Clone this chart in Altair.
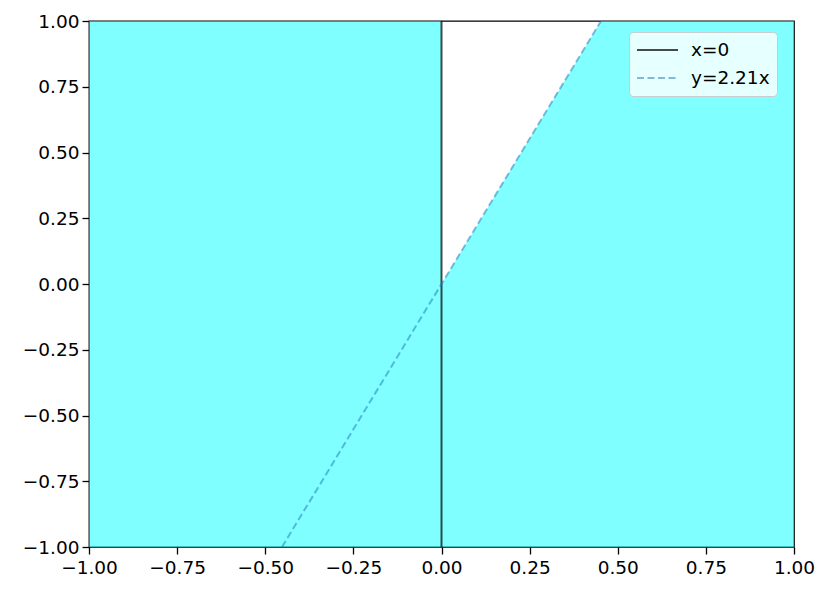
import altair as alt
import pandas as pd

# ---- data ----
slope = 2.21
line_labels = ["x=0", "y=2.21x"]
vline_x = [0.0, 0.0]
vline_y = [-1.0, 1.0]
dline_x = [-1.0 / slope, 1.0 / slope]
dline_y = [-1.0, 1.0]

# filled region: left half (rect) + right part below the line (area)
left_x, left_x2 = [-1.0], [0.0]
left_y, left_y2 = [-1.0], [1.0]
right_x = [0.0, 1.0 / slope, 1.0]
right_top = [0.0, 1.0, 1.0]
right_bottom = [-1.0, -1.0, -1.0]

ticks = [-1.0, -0.75, -0.5, -0.25, 0.0, 0.25, 0.5, 0.75, 1.0]

left_df = pd.DataFrame({"x": left_x, "x2": left_x2, "y": left_y, "y2": left_y2})
right_df = pd.DataFrame({"x": right_x, "top": right_top, "bottom": right_bottom})
lines_df = pd.DataFrame({
    "x": vline_x + dline_x,
    "y": vline_y + dline_y,
    "series": [line_labels[0]] * 2 + [line_labels[1]] * 2,
})

FS = 18.5
xscale = alt.Scale(domain=[-1, 1], nice=False, zero=False)
yscale = alt.Scale(domain=[-1, 1], nice=False, zero=False)

xaxis = alt.Axis(values=ticks, format=".2f", title=None, grid=False, domain=False,
                 tickSize=7, tickWidth=1.3, tickColor="black", labelPadding=4,
                 labelFlush=False, labelOverlap=False,
                 labelFont="DejaVu Sans", labelFontSize=FS, labelColor="black")
yaxis = alt.Axis(values=ticks, format=".2f", title=None, grid=False, domain=False,
                 tickSize=7, tickWidth=1.3, tickColor="black", labelPadding=3,
                 labelFlush=False, labelOverlap=False,
                 labelFont="DejaVu Sans", labelFontSize=FS, labelColor="black")

left = alt.Chart(left_df).mark_rect(color="cyan", opacity=0.5).encode(
    x=alt.X("x:Q", scale=xscale, axis=xaxis),
    x2="x2:Q",
    y=alt.Y("y:Q", scale=yscale, axis=yaxis),
    y2="y2:Q",
)

right = alt.Chart(right_df).mark_area(color="cyan", opacity=0.5, clip=True).encode(
    x=alt.X("x:Q", scale=xscale, axis=xaxis),
    y=alt.Y("top:Q", scale=yscale, axis=yaxis),
    y2="bottom:Q",
)

lines = alt.Chart(lines_df).mark_line(strokeWidth=2, clip=True).encode(
    x="x:Q",
    y="y:Q",
    color=alt.Color("series:N", scale=alt.Scale(domain=line_labels, range=["black", "#1f77b4"]),
                    legend=alt.Legend(title=None)),
    strokeDash=alt.StrokeDash("series:N", scale=alt.Scale(domain=line_labels, range=[[1, 0], [7, 3.5]]),
                              legend=alt.Legend(title=None)),
    opacity=alt.Opacity("series:N", scale=alt.Scale(domain=line_labels, range=[0.7, 0.5]),
                        legend=alt.Legend(title=None)),
)

chart = alt.layer(left, right, lines).properties(
    width=705, height=526,
    padding={"left": 81, "top": 13, "right": 28, "bottom": 34},
    autosize=alt.AutoSizeParams(type="none"),
).configure_view(
    stroke="black", strokeWidth=1.3
).configure_legend(
    orient="none", legendX=540, legendY=11,
    fillColor="#e6ffff", strokeColor="#cccccc", cornerRadius=4,
    padding=7, symbolType="stroke", symbolSize=1681, symbolStrokeWidth=2,
    labelFont="DejaVu Sans", labelFontSize=FS, labelColor="black",
    clipHeight=22, rowPadding=6, labelOffset=12,
)

chart.save("out.html", embed_options={"renderer": "svg", "actions": False})
